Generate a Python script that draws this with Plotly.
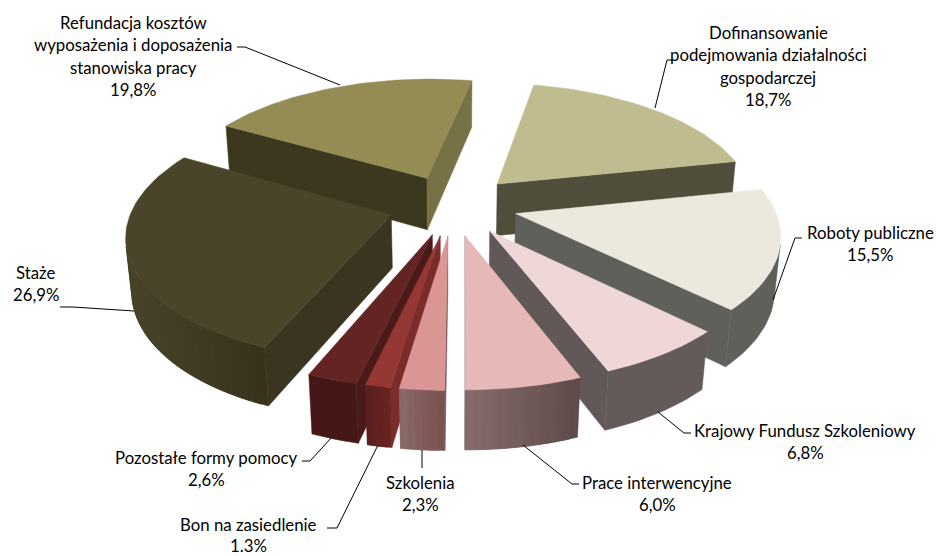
import math
import plotly.graph_objects as go

categories = ["Dofinansowanie podejmowania działalności gospodarczej", "Roboty publiczne",
              "Krajowy Fundusz Szkoleniowy", "Prace interwencyjne", "Szkolenia",
              "Bon na zasiedlenie", "Pozostałe formy pomocy", "Staże",
              "Refundacja kosztów wyposażenia i doposażenia stanowiska pracy"]
values = [18.7, 15.5, 6.8, 6.0, 2.3, 1.3, 2.6, 26.9, 19.8]

top_colors = ["#C1BC8F", "#EBE8DD", "#EFD7D7", "#E6B8B7", "#DA9694", "#953735", "#632423", "#4A452A", "#948B55"]
start_wall = ["#514D3B", "#5F605A", "#645A5A", "#6E5A5A", "#7A5050", "#7A2C2A", "#4A1A18", "#3A3520", "#3C371F"]
end_wall = ["#514D3B", "#5F605A", "#625858", "#6E5A5A", "#7A5050", "#7A2C2A", "#4A1A18", "#3A3520", "#777146"]
outer_l = ["#514D3B", "#5F605A", "#645A5A", "#866C6C", "#8A6A6A", "#5A1F1F", "#451716", "#48432A", "#777146"]
outer_r = ["#514D3B", "#5F605A", "#645A5A", "#5E4A4A", "#7A5050", "#6A2522", "#451716", "#38321D", "#777146"]

label_lines = [["Dofinansowanie", "podejmowania działalności", "gospodarczej"], ["Roboty publiczne"],
               ["Krajowy Fundusz Szkoleniowy"], ["Prace interwencyjne"], ["Szkolenia"],
               ["Bon na zasiedlenie"], ["Pozostałe formy pomocy"], ["Staże"],
               ["Refundacja kosztów", "wyposażenia i doposażenia", "stanowiska pracy"]]
label_pos = [(768, 32), (870, 232), (805, 430), (657, 482), (420, 482), (248, 524), (206, 457), (36, 272), (133, 22)]
label_step = [22.6, 22.6, 22.6, 22.6, 22.6, 21.5, 22.6, 22.6, 22.6]
pct_text = ["18,7%", "15,5%", "6,8%", "6,0%", "2,3%", "1.3%", "2,6%", "26,9%", "19,8%"]
leaders = [[(655, 108), (667, 60), (672, 60)], [(773, 300), (795, 238), (802, 238)],
           [(658, 412), (684, 433), (691, 433)], [(523, 445), (572, 484), (579, 484)],
           [(422, 450), (422, 468)], [(378, 445), (337, 528), (327, 528)],
           [(332, 437), (310, 461), (302, 461)], [(134, 311), (73, 307), (60, 307)],
           [(340, 85), (245, 47), (237, 47)]]

START = 11
CX, CY, SCALE = 453, 205, 258
PITCH = math.radians(28)
DIST = 6.0
H = 0.235
EXPL = 0.25


def project(X, Y, Z):
    yc = Y * math.sin(PITCH) - Z * math.cos(PITCH)
    zc = Y * math.cos(PITCH) + Z * math.sin(PITCH)
    f = DIST / (DIST - zc)
    return CX + SCALE * f * X, CY + SCALE * f * yc


def hex_rgb(c):
    return [int(c[i:i + 2], 16) for i in (1, 3, 5)]


def mix(a, b, t):
    ra, rb = hex_rgb(a), hex_rgb(b)
    return "rgb(%d,%d,%d)" % tuple(round(x + (y - x) * t) for x, y in zip(ra, rb))


def signed_area(p):
    return sum(p[i][0] * p[(i + 1) % len(p)][1] - p[(i + 1) % len(p)][0] * p[i][1] for i in range(len(p))) / 2


fig = go.Figure()


def poly(p, color):
    fig.add_trace(go.Scatter(x=[q[0] for q in p] + [p[0][0]], y=[q[1] for q in p] + [p[0][1]],
                             mode="lines", fill="toself", fillcolor=color,
                             line=dict(color=color, width=0.5), hoverinfo="skip", showlegend=False))


total = sum(values)
slices = []
a = START
for i, v in enumerate(values):
    b = a + v / total * 360
    slices.append((i, a, b))
    a = b

order = sorted(slices, key=lambda s: -math.cos(math.radians((s[1] + s[2]) / 2)))
for i, a0, a1 in order:
    mid = math.radians((a0 + a1) / 2)
    ox, oy = EXPL * math.sin(mid), -EXPL * math.cos(mid)
    n = max(6, int((a1 - a0) / 1.5))
    angs = [math.radians(a0 + (a1 - a0) * k / n) for k in range(n + 1)]
    rim = [(ox + math.sin(t), oy - math.cos(t)) for t in angs]
    apex_t, apex_b = project(ox, oy, 0), project(ox, oy, -H)
    r0t, r0b = project(*rim[0], 0), project(*rim[0], -H)
    r1t, r1b = project(*rim[-1], 0), project(*rim[-1], -H)
    q0 = [apex_t, r0t, r0b, apex_b]
    q1 = [r1t, apex_t, apex_b, r1b]
    if signed_area(q0) < 0:
        poly(q0, start_wall[i])
    if signed_area(q1) < 0:
        poly(q1, end_wall[i])
    # outer wall: visible segments, each overlapping the next so no seams show
    vis = []
    for k in range(n):
        q = [project(*rim[k + 1], 0), project(*rim[k], 0), project(*rim[k], -H), project(*rim[k + 1], -H)]
        if signed_area(q) > 0:
            vis.append(k)
    if vis:
        ks = vis + [vis[-1] + 1]
        xs = [project(*rim[k], 0)[0] for k in ks]
        xmin, xmax = min(xs), max(xs)
        if outer_l[i] == outer_r[i]:
            tops = [project(*rim[k], 0) for k in ks]
            bots = [project(*rim[k], -H) for k in ks]
            poly(tops + bots[::-1], outer_l[i])
        else:
            for j, k in enumerate(vis):
                span = ks[j:min(j + 3, len(ks))]
                tops = [project(*rim[m], 0) for m in span]
                bots = [project(*rim[m], -H) for m in span]
                xm = (project(*rim[k], 0)[0] + project(*rim[k + 1], 0)[0]) / 2
                poly(tops + bots[::-1], mix(outer_l[i], outer_r[i], (xm - xmin) / max(xmax - xmin, 1)))
    poly([apex_t] + [project(*r, 0) for r in rim], top_colors[i])

for pts in leaders:
    fig.add_trace(go.Scatter(x=[p[0] for p in pts], y=[p[1] for p in pts], mode="lines",
                             line=dict(color="#000000", width=1), hoverinfo="skip", showlegend=False))

for lines, (x, y), pct, step in zip(label_lines, label_pos, pct_text, label_step):
    for j, t in enumerate(lines + [pct]):
        fig.add_annotation(x=x, y=y + j * step, text=t, showarrow=False, xref="x", yref="y",
                           xanchor="center", yanchor="middle",
                           font=dict(family="Lato", size=16.8, color="#000000"))

fig.update_layout(width=938, height=556, margin=dict(l=0, r=0, t=0, b=0), autosize=False,
                  paper_bgcolor="#FFFFFF", plot_bgcolor="#FFFFFF", showlegend=False,
                  xaxis=dict(range=[0, 938], visible=False),
                  yaxis=dict(range=[556, 0], visible=False))
fig.write_html("out.html", config=dict(displayModeBar=False),
               post_script="document.body.style.margin='0';document.body.style.overflow='hidden';")
